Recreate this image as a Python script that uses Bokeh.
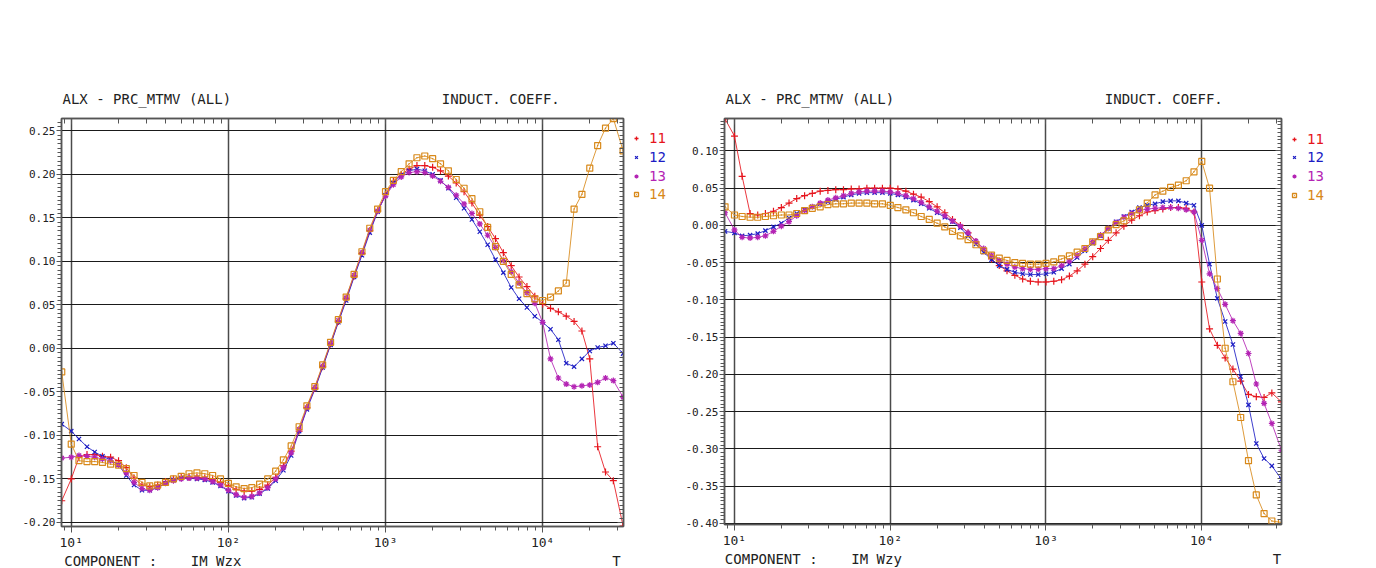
from bokeh.plotting import figure
from bokeh.layouts import row
from bokeh.models import (Range1d, LogAxis, LinearAxis, SingleIntervalTicker, LogTicker,
                          NumeralTickFormatter, CustomJSTickFormatter, Legend, LegendItem, Title)
from bokeh.embed import file_html
from bokeh.resources import INLINE

# ---------------- data ----------------
periods = [8.7, 10, 11.2, 12.6, 14.1, 15.8, 17.8, 20, 22.4, 25.1, 28.2, 31.6, 35.5, 39.8, 44.7,
           50.1, 56.2, 63.1, 70.8, 79.4, 89.1, 100, 112, 126, 141, 158, 178, 200, 224, 251, 282,
           316, 355, 398, 447, 501, 562, 631, 708, 794, 891, 1000, 1122, 1259, 1413, 1585, 1778,
           1995, 2239, 2512, 2818, 3162, 3548, 3981, 4467, 5012, 5623, 6310, 7079, 7943, 8913,
           10000, 11220, 12590, 14130, 15850, 17780, 19950, 22390, 25120, 28180, 32500]

series_names = ["11", "12", "13", "14"]

# left panel: IM Wzx
left_11 = [-0.175, -0.150, -0.125, -0.122, -0.122, -0.124, -0.125, -0.129, -0.137, -0.149, -0.157,
           -0.159, -0.157, -0.153, -0.150, -0.148, -0.148, -0.148, -0.149, -0.151, -0.154, -0.158,
           -0.162, -0.164, -0.164, -0.162, -0.157, -0.148, -0.135, -0.118, -0.095, -0.068, -0.046,
           -0.021, 0.005, 0.031, 0.057, 0.083, 0.109, 0.135, 0.158, 0.177, 0.192, 0.200, 0.206,
           0.210, 0.210, 0.208, 0.204, 0.198, 0.190, 0.180, 0.167, 0.153, 0.140, 0.126, 0.110,
           0.095, 0.082, 0.071, 0.060, 0.051, 0.046, 0.042, 0.037, 0.031, 0.020, -0.012, -0.113,
           -0.142, -0.152, -0.204]
left_12 = [-0.087, -0.095, -0.104, -0.113, -0.119, -0.124, -0.128, -0.134, -0.146, -0.157, -0.163,
           -0.163, -0.160, -0.155, -0.151, -0.149, -0.149, -0.150, -0.151, -0.154, -0.158, -0.164,
           -0.169, -0.172, -0.171, -0.167, -0.161, -0.152, -0.140, -0.123, -0.095, -0.070, -0.047,
           -0.022, 0.004, 0.030, 0.055, 0.082, 0.107, 0.133, 0.157, 0.176, 0.190, 0.199, 0.204,
           0.206, 0.204, 0.200, 0.193, 0.184, 0.173, 0.161, 0.148, 0.134, 0.119, 0.102, 0.087,
           0.070, 0.057, 0.047, 0.037, 0.030, 0.022, 0.010, -0.017, -0.021, -0.012, -0.003, 0.001,
           0.003, 0.006, -0.006]
left_13 = [-0.126, -0.125, -0.123, -0.124, -0.125, -0.127, -0.129, -0.134, -0.143, -0.154, -0.161,
           -0.163, -0.160, -0.155, -0.152, -0.150, -0.149, -0.149, -0.150, -0.153, -0.157, -0.163,
           -0.168, -0.171, -0.170, -0.166, -0.160, -0.150, -0.137, -0.120, -0.093, -0.068, -0.045,
           -0.020, 0.006, 0.032, 0.058, 0.084, 0.110, 0.136, 0.158, 0.175, 0.188, 0.197, 0.202,
           0.203, 0.202, 0.198, 0.192, 0.185, 0.176, 0.166, 0.155, 0.143, 0.130, 0.116, 0.101,
           0.088, 0.075, 0.064, 0.052, 0.030, -0.012, -0.034, -0.041, -0.044, -0.043, -0.042,
           -0.039, -0.034, -0.037, -0.056]
left_14 = [-0.027, -0.110, -0.129, -0.130, -0.130, -0.131, -0.133, -0.134, -0.138, -0.146, -0.154,
           -0.158, -0.157, -0.154, -0.150, -0.147, -0.144, -0.143, -0.144, -0.146, -0.150, -0.155,
           -0.159, -0.161, -0.160, -0.156, -0.150, -0.141, -0.128, -0.112, -0.090, -0.066, -0.044,
           -0.019, 0.007, 0.033, 0.059, 0.085, 0.111, 0.138, 0.160, 0.180, 0.193, 0.203, 0.212,
           0.219, 0.221, 0.218, 0.212, 0.204, 0.194, 0.184, 0.172, 0.157, 0.139, 0.117, 0.100,
           0.085, 0.073, 0.063, 0.057, 0.055, 0.059, 0.066, 0.075, 0.160, 0.177, 0.207, 0.233,
           0.253, 0.264, 0.227]

# right panel: IM Wzy
right_11 = [0.143, 0.120, 0.066, 0.016, 0.014, 0.016, 0.019, 0.024, 0.030, 0.036, 0.040, 0.043,
            0.046, 0.047, 0.048, 0.048, 0.049, 0.049, 0.050, 0.050, 0.050, 0.050, 0.049, 0.046,
            0.042, 0.038, 0.032, 0.025, 0.017, 0.008, 0.000, -0.010, -0.022, -0.034, -0.045,
            -0.054, -0.061, -0.067, -0.072, -0.075, -0.076, -0.076, -0.075, -0.073, -0.068,
            -0.061, -0.052, -0.042, -0.031, -0.020, -0.010, -0.001, 0.007, 0.013, 0.018, 0.020,
            0.022, 0.024, 0.024, 0.023, 0.018, -0.076, -0.139, -0.161, -0.178, -0.193, -0.209,
            -0.227, -0.230, -0.231, -0.225, -0.237]
right_12 = [-0.008, -0.010, -0.014, -0.013, -0.011, -0.007, -0.002, 0.003, 0.010, 0.016, 0.021,
            0.025, 0.029, 0.032, 0.035, 0.038, 0.041, 0.043, 0.044, 0.044, 0.044, 0.043, 0.041,
            0.038, 0.034, 0.029, 0.023, 0.017, 0.011, 0.005, -0.003, -0.014, -0.025, -0.036,
            -0.046, -0.054, -0.059, -0.063, -0.065, -0.066, -0.066, -0.065, -0.063, -0.058,
            -0.052, -0.043, -0.034, -0.024, -0.014, -0.004, 0.005, 0.012, 0.018, 0.024, 0.027,
            0.029, 0.032, 0.033, 0.033, 0.030, 0.027, 0.000, -0.052, -0.098, -0.129, -0.160,
            -0.203, -0.241, -0.293, -0.313, -0.323, -0.341]
right_13 = [0.017, -0.006, -0.016, -0.017, -0.016, -0.014, -0.008, -0.001, 0.005, 0.013, 0.020,
            0.025, 0.030, 0.034, 0.037, 0.040, 0.043, 0.045, 0.046, 0.046, 0.046, 0.045, 0.043,
            0.040, 0.036, 0.031, 0.025, 0.019, 0.013, 0.006, -0.001, -0.010, -0.021, -0.031,
            -0.040, -0.047, -0.052, -0.056, -0.058, -0.059, -0.059, -0.058, -0.058, -0.054,
            -0.048, -0.040, -0.031, -0.022, -0.013, -0.004, 0.004, 0.011, 0.016, 0.020, 0.022,
            0.023, 0.024, 0.024, 0.023, 0.021, 0.018, -0.020, -0.065, -0.085, -0.106, -0.128,
            -0.145, -0.172, -0.213, -0.239, -0.266, -0.302]
right_14 = [0.025, 0.014, 0.012, 0.011, 0.011, 0.012, 0.013, 0.014, 0.014, 0.016, 0.020, 0.023,
            0.025, 0.028, 0.029, 0.029, 0.030, 0.030, 0.030, 0.029, 0.029, 0.027, 0.024, 0.021,
            0.017, 0.012, 0.008, 0.003, -0.002, -0.008, -0.014, -0.019, -0.026, -0.034, -0.040,
            -0.044, -0.047, -0.050, -0.051, -0.052, -0.052, -0.051, -0.049, -0.045, -0.041,
            -0.036, -0.031, -0.022, -0.015, -0.006, 0.001, 0.006, 0.013, 0.021, 0.030, 0.041,
            0.046, 0.051, 0.054, 0.060, 0.072, 0.086, 0.050, -0.072, -0.165, -0.210, -0.258,
            -0.316, -0.362, -0.387, -0.397, -0.399]

title_left = "ALX - PRC_MTMV (ALL)"
title_right = "INDUCT. COEFF."
component_left = "COMPONENT :    IM Wzx"
component_right = "COMPONENT :    IM Wzy"

# ---------------- styling ----------------
FONT = "DejaVu Sans Mono"
TXT = "#222222"
AX = "#555555"
COLORS = {"11": "#e6141c", "12": "#1c1cc4", "13": "#b424b4", "14": "#d8891a"}
MARKERS = {"11": "cross", "12": "x", "13": "asterisk", "14": "square_dot"}
SIZES = {"11": 7, "12": 6, "13": 6, "14": 6}
NB = "\u00a0"

SUP = CustomJSTickFormatter(code="""
const e = Math.round(Math.log10(tick));
const s = {0:'\u2070',1:'\u00b9',2:'\u00b2',3:'\u00b3',4:'\u2074',5:'\u2075'};
return '10' + (s[e] !== undefined ? s[e] : String(e));
""")
EMPTY = CustomJSTickFormatter(code="return '';")


def make_panel(data, comp, x_lo, x_hi, y_lo, y_hi, fw, fh, mbl, mbr, mbt, mbb):
    p = figure(x_axis_type="log", x_range=Range1d(x_lo, x_hi), y_range=Range1d(y_lo, y_hi),
               frame_width=fw, frame_height=fh, min_border_left=mbl, min_border_right=mbr,
               min_border_top=mbt, min_border_bottom=mbb, toolbar_location=None,
               output_backend="svg", background_fill_color="white", border_fill_color="white")
    p.outline_line_color = AX
    p.outline_line_width = 1.5

    # header line as a title (non-breaking spaces keep the two texts apart)
    p.title = Title(text=title_left + NB * 25 + title_right, align="left",
                    text_font=FONT, text_font_size="14px", text_font_style="normal",
                    text_color=TXT, standoff=24, offset=1)

    # bottom axis
    xa = p.xaxis[0]
    xa.ticker = LogTicker(num_minor_ticks=10)
    xa.formatter = SUP
    xa.major_tick_out = 6
    xa.major_tick_in = 0
    xa.minor_tick_out = 4
    xa.minor_tick_in = 0
    xa.major_label_standoff = 2
    xa.major_label_text_align = "right"
    xa.major_label_text_font = FONT
    xa.major_label_text_font_size = "13px"
    xa.major_label_text_color = TXT
    xa.axis_line_color = AX
    xa.axis_line_width = 1.5
    xa.major_tick_line_color = AX
    xa.minor_tick_line_color = AX
    xa.axis_label = comp.replace(" ", NB) + NB * 44 + "T"
    xa.axis_label_text_font = FONT
    xa.axis_label_text_font_size = "14px"
    xa.axis_label_text_font_style = "normal"
    xa.axis_label_text_color = TXT
    xa.axis_label_standoff = 0

    # left axis
    ya = p.yaxis[0]
    ya.ticker = SingleIntervalTicker(interval=0.05, num_minor_ticks=10)
    ya.formatter = NumeralTickFormatter(format="0.00")
    ya.major_tick_out = 5
    ya.major_tick_in = 0
    ya.minor_tick_out = 4
    ya.minor_tick_in = 0
    ya.major_label_standoff = 1
    ya.major_label_text_font = FONT
    ya.major_label_text_font_size = "11px"
    ya.major_label_text_color = TXT
    ya.axis_line_color = AX
    ya.axis_line_width = 1.5
    ya.major_tick_line_color = AX
    ya.minor_tick_line_color = AX

    # top axis (ticks inside, no labels)
    top = LogAxis(ticker=LogTicker(num_minor_ticks=10), formatter=EMPTY,
                  major_tick_in=6, major_tick_out=0, minor_tick_in=5, minor_tick_out=0,
                  axis_line_color=AX, axis_line_width=1.5, major_label_standoff=0,
                  major_tick_line_color=AX, minor_tick_line_color=AX,
                  major_label_text_font_size="0px")
    p.add_layout(top, "above")

    # right axis (ticks inside, no labels)
    rt = LinearAxis(ticker=SingleIntervalTicker(interval=0.05, num_minor_ticks=10), formatter=EMPTY,
                    major_tick_in=6, major_tick_out=0, minor_tick_in=4, minor_tick_out=0,
                    axis_line_color=AX, axis_line_width=1.5, major_label_standoff=0,
                    major_tick_line_color=AX, minor_tick_line_color=AX,
                    major_label_text_font_size="0px")
    p.add_layout(rt, "right")

    p.xgrid.grid_line_color = "#4a4a4a"
    p.xgrid.grid_line_width = 1.5
    p.ygrid.grid_line_color = "#1a1a1a"
    p.ygrid.grid_line_width = 1.2

    for name in series_names:
        vals = data[name]
        c = COLORS[name]
        p.line(periods, vals, line_color=c, line_width=1, line_alpha=0.85)
        p.scatter(periods, vals, marker=MARKERS[name], size=SIZES[name],
                  line_color=c, fill_color=None, line_width=1.2)
    return p


def make_legend(data, width, height, vy0):
    # legend-only figure: its ranges exclude the data, so only the legend entries show
    lg = figure(width=width, height=height, min_border=0, x_axis_location=None,
                y_axis_location=None, toolbar_location=None, output_backend="svg",
                x_range=Range1d(0, 1), y_range=Range1d(0, 1))
    lg.outline_line_color = None
    lg.xgrid.visible = False
    lg.ygrid.visible = False
    for k, name in enumerate(series_names):
        c = COLORS[name]
        r = lg.scatter(periods[:1], data[name][:1], marker=MARKERS[name], size=SIZES[name],
                       line_color=c, fill_color=None, line_width=1.3)
        leg = Legend(items=[LegendItem(label=name, renderers=[r])],
                     location=(0, vy0 - k * 18.8),
                     label_text_color=c, label_text_font=FONT, label_text_font_size="14px",
                     glyph_width=10, glyph_height=16, label_height=16, label_standoff=8,
                     padding=0, margin=0, spacing=0, border_line_color=None,
                     background_fill_alpha=0)
        lg.add_layout(leg)
    return lg


left_data = {"11": left_11, "12": left_12, "13": left_13, "14": left_14}
right_data = {"11": right_11, "12": right_12, "13": right_13, "14": right_14}

H = 566
p1 = make_panel(left_data, component_left, 8.67, 32700, -0.2046, 0.2641, 562, 408, 61, 8, 117, H - 117 - 408)
lg1 = make_legend(left_data, 48, H, 375)
p2 = make_panel(right_data, component_right, 8.63, 32500, -0.4017, 0.1436, 557, 406, 45, 8, 118, H - 118 - 406)
lg2 = make_legend(right_data, 84, H, 374.5)

layout = row(p1, lg1, p2, lg2)
open("out.html", "w").write(file_html(layout, INLINE))
